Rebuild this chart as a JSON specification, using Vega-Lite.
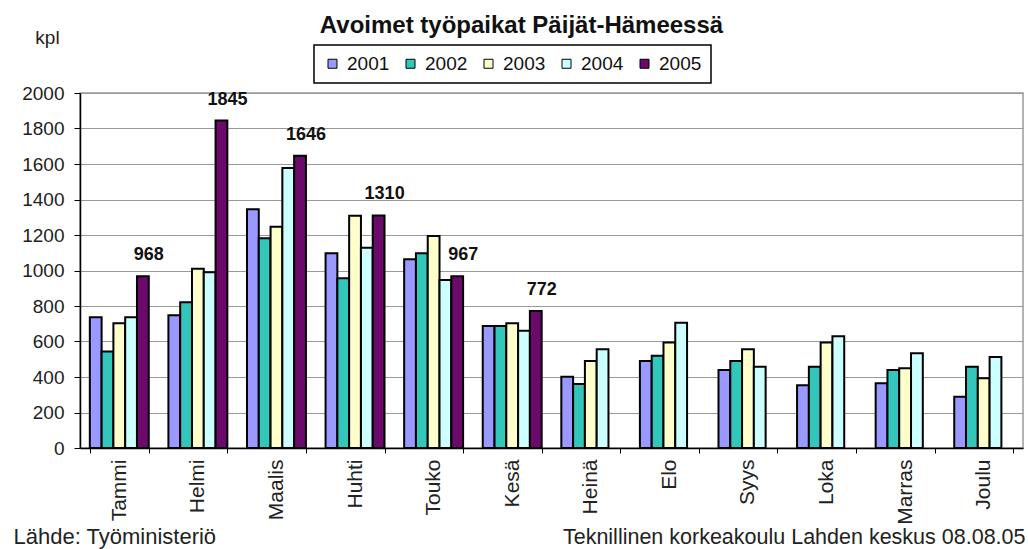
{
  "$schema": "https://vega.github.io/schema/vega-lite/v6.json",
  "width": 943,
  "height": 355,
  "autosize": {"type": "none"},
  "padding": {"left": 80, "top": 93, "right": 5, "bottom": 101},
  "background": "white",
  "title": {
    "text": "Avoimet työpaikat Päijät-Hämeessä",
    "font": "Liberation Sans",
    "fontSize": 24,
    "fontWeight": "bold",
    "color": "#111",
    "anchor": "middle",
    "frame": "group",
    "dx": -30,
    "offset": -10
  },
  "config": {
    "font": "Liberation Sans",
    "view": {"stroke": "#999", "strokeWidth": 1.5},
    "axis": {"labelFont": "Liberation Sans", "titleFont": "Liberation Sans", "labelColor": "#222", "titleColor": "#222", "titleFontWeight": "normal"},
    "legend": {
      "orient": "none",
      "legendX": 234,
      "legendY": -48,
      "direction": "horizontal",
      "strokeColor": "black",
      "strokeWidth": 1.5,
      "fillColor": "white",
      "padding": 9,
      "symbolType": "square",
      "symbolSize": 81,
      "symbolStrokeColor": "black",
      "symbolStrokeWidth": 1,
      "labelFont": "Liberation Sans",
      "labelFontSize": 19,
      "labelColor": "#111",
      "labelOffset": 5,
      "columnPadding": 11
    }
  },
  "data": {
    "values": [
      {"kk": "Tammi", "vuosi": "2001", "kpl": 736},
      {"kk": "Tammi", "vuosi": "2002", "kpl": 543},
      {"kk": "Tammi", "vuosi": "2003", "kpl": 703},
      {"kk": "Tammi", "vuosi": "2004", "kpl": 736},
      {"kk": "Tammi", "vuosi": "2005", "kpl": 968},
      {"kk": "Helmi", "vuosi": "2001", "kpl": 748},
      {"kk": "Helmi", "vuosi": "2002", "kpl": 821},
      {"kk": "Helmi", "vuosi": "2003", "kpl": 1010},
      {"kk": "Helmi", "vuosi": "2004", "kpl": 990},
      {"kk": "Helmi", "vuosi": "2005", "kpl": 1845},
      {"kk": "Maalis", "vuosi": "2001", "kpl": 1345},
      {"kk": "Maalis", "vuosi": "2002", "kpl": 1181},
      {"kk": "Maalis", "vuosi": "2003", "kpl": 1247},
      {"kk": "Maalis", "vuosi": "2004", "kpl": 1577},
      {"kk": "Maalis", "vuosi": "2005", "kpl": 1646},
      {"kk": "Huhti", "vuosi": "2001", "kpl": 1097},
      {"kk": "Huhti", "vuosi": "2002", "kpl": 956},
      {"kk": "Huhti", "vuosi": "2003", "kpl": 1309},
      {"kk": "Huhti", "vuosi": "2004", "kpl": 1128},
      {"kk": "Huhti", "vuosi": "2005", "kpl": 1310},
      {"kk": "Touko", "vuosi": "2001", "kpl": 1063},
      {"kk": "Touko", "vuosi": "2002", "kpl": 1097},
      {"kk": "Touko", "vuosi": "2003", "kpl": 1194},
      {"kk": "Touko", "vuosi": "2004", "kpl": 946},
      {"kk": "Touko", "vuosi": "2005", "kpl": 967},
      {"kk": "Kesä", "vuosi": "2001", "kpl": 687},
      {"kk": "Kesä", "vuosi": "2002", "kpl": 687},
      {"kk": "Kesä", "vuosi": "2003", "kpl": 703},
      {"kk": "Kesä", "vuosi": "2004", "kpl": 661},
      {"kk": "Kesä", "vuosi": "2005", "kpl": 772},
      {"kk": "Heinä", "vuosi": "2001", "kpl": 402},
      {"kk": "Heinä", "vuosi": "2002", "kpl": 361},
      {"kk": "Heinä", "vuosi": "2003", "kpl": 490},
      {"kk": "Heinä", "vuosi": "2004", "kpl": 556},
      {"kk": "Elo", "vuosi": "2001", "kpl": 490},
      {"kk": "Elo", "vuosi": "2002", "kpl": 520},
      {"kk": "Elo", "vuosi": "2003", "kpl": 595},
      {"kk": "Elo", "vuosi": "2004", "kpl": 706},
      {"kk": "Syys", "vuosi": "2001", "kpl": 439},
      {"kk": "Syys", "vuosi": "2002", "kpl": 490},
      {"kk": "Syys", "vuosi": "2003", "kpl": 556},
      {"kk": "Syys", "vuosi": "2004", "kpl": 458},
      {"kk": "Loka", "vuosi": "2001", "kpl": 353},
      {"kk": "Loka", "vuosi": "2002", "kpl": 458},
      {"kk": "Loka", "vuosi": "2003", "kpl": 595},
      {"kk": "Loka", "vuosi": "2004", "kpl": 629},
      {"kk": "Marras", "vuosi": "2001", "kpl": 365},
      {"kk": "Marras", "vuosi": "2002", "kpl": 439},
      {"kk": "Marras", "vuosi": "2003", "kpl": 449},
      {"kk": "Marras", "vuosi": "2004", "kpl": 534},
      {"kk": "Joulu", "vuosi": "2001", "kpl": 289},
      {"kk": "Joulu", "vuosi": "2002", "kpl": 458},
      {"kk": "Joulu", "vuosi": "2003", "kpl": 393},
      {"kk": "Joulu", "vuosi": "2004", "kpl": 513}
    ]
  },
  "encoding": {
    "x": {
      "field": "kk",
      "type": "nominal",
      "sort": ["Tammi", "Helmi", "Maalis", "Huhti", "Touko", "Kesä", "Heinä", "Elo", "Syys", "Loka", "Marras", "Joulu"],
      "scale": {"paddingInner": 0.25, "paddingOuter": 0.125}
    },
    "xOffset": {
      "field": "vuosi",
      "type": "nominal",
      "scale": {"domain": ["2001", "2002", "2003", "2004", "2005"], "padding": 0}
    },
    "y": {
      "field": "kpl",
      "type": "quantitative",
      "scale": {"domain": [0, 2000], "nice": false},
      "axis": {
        "values": [0, 200, 400, 600, 800, 1000, 1200, 1400, 1600, 1800, 2000],
        "format": "d",
        "title": "kpl",
        "titleAngle": 0,
        "titleAlign": "center",
        "titleBaseline": "alphabetic",
        "titleX": -33,
        "titleY": -50,
        "titleFontSize": 19,
        "labelFontSize": 19,
        "labelPadding": 10,
        "domainColor": "black",
        "domainWidth": 1.5,
        "tickColor": "black",
        "tickSize": 6,
        "grid": true,
        "gridColor": "#999",
        "gridWidth": 1.2
      }
    }
  },
  "layer": [
    {
      "mark": {"type": "bar", "stroke": "black", "strokeWidth": 2},
      "encoding": {
        "color": {
          "field": "vuosi",
          "type": "nominal",
          "title": null,
          "scale": {
            "domain": ["2001", "2002", "2003", "2004", "2005"],
            "range": ["#9999FF", "#33C6BB", "#FFFFCC", "#CCFFFF", "#6B0A6B"]
          }
        },
        "x": {
          "field": "kk",
          "type": "nominal",
          "sort": ["Tammi", "Helmi", "Maalis", "Huhti", "Touko", "Kesä", "Heinä", "Elo", "Syys", "Loka", "Marras", "Joulu"],
          "axis": {
            "orient": "bottom",
            "labelAngle": -90,
            "labelAlign": "right",
            "labelBaseline": "middle",
            "labelFontSize": 21,
            "labelPadding": 6,
            "tickBand": "extent",
            "tickColor": "black",
            "tickSize": 5,
            "domainColor": "black",
            "domainWidth": 1.5,
            "title": "Teknillinen korkeakoulu Lahden keskus 08.08.05",
            "titleFontSize": 21.5,
            "titleAlign": "right",
            "titleAnchor": null,
            "titleBaseline": "alphabetic",
            "titleX": 945,
            "titleY": 95
          }
        }
      }
    },
    {
      "transform": [{"filter": "datum.vuosi == '2005'"}],
      "mark": {"type": "text", "baseline": "bottom", "align": "center", "dx": 6, "dy": -12, "fontSize": 18, "fontWeight": "bold", "color": "#111"},
      "encoding": {
        "text": {"field": "kpl", "type": "quantitative"},
        "x": {
          "field": "kk",
          "type": "nominal",
          "sort": ["Tammi", "Helmi", "Maalis", "Huhti", "Touko", "Kesä", "Heinä", "Elo", "Syys", "Loka", "Marras", "Joulu"],
          "axis": {
            "orient": "top",
            "domain": false,
            "ticks": false,
            "labels": false,
            "grid": false,
            "title": "Lähde: Työministeriö",
            "titleFontSize": 22,
            "titleAlign": "left",
            "titleAnchor": null,
            "titleBaseline": "alphabetic",
            "titleX": -67,
            "titleY": 450
          }
        }
      }
    }
  ],
  "resolve": {"axis": {"x": "independent"}}
}
